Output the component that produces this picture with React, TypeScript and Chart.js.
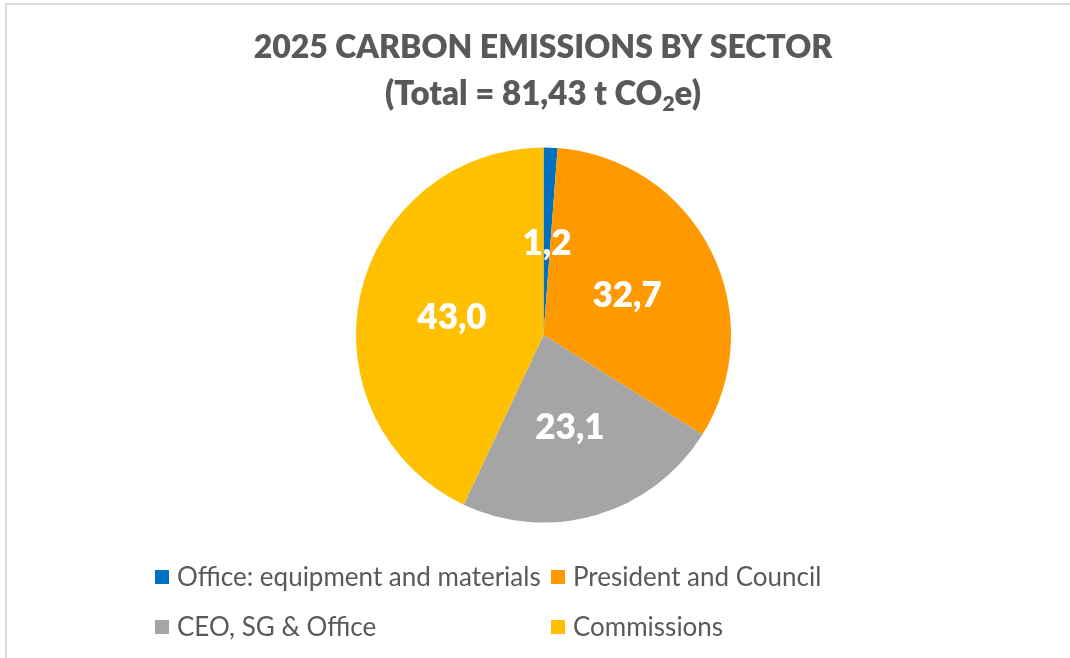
import React, { useEffect, useRef } from "react";
import { Chart, registerables } from "chart.js";

Chart.register(...registerables);

const categories = [
  "Office: equipment and materials",
  "President and Council",
  "CEO, SG & Office",
  "Commissions",
];
const shares = [1.2, 32.7, 23.1, 43.0];
const valueLabels = ["1,2", "32,7", "23,1", "43,0"];
const colors = ["#0070C0", "#FF9900", "#A5A5A5", "#FFC000"];
const titleLine1 = "2025 CARBON EMISSIONS BY SECTOR";
const titleLine2Main = "(Total = 81,43 t CO";
const titleLine2Sub = "2";
const titleLine2End = "e)";

const FONT = "Lato, 'Open Sans', sans-serif";
const TEXT_GRAY = "#595959";

const framePlugin = {
  id: "frame",
  beforeDraw(chart: any) {
    const ctx = chart.ctx;
    ctx.save();
    ctx.fillStyle = "#ffffff";
    ctx.fillRect(0, 0, chart.width, chart.height);
    ctx.fillStyle = "#dcdcdc";
    ctx.fillRect(5, 3, chart.width - 5, 2);
    ctx.fillRect(5, 3, 2, chart.height - 3);
    ctx.restore();
  },
};

const titlePlugin = {
  id: "customTitle",
  afterDraw(chart: any) {
    const ctx = chart.ctx;
    const cx = 543;
    ctx.save();
    ctx.fillStyle = TEXT_GRAY;
    ctx.textBaseline = "alphabetic";
    ctx.font = `800 32px ${FONT}`;
    ctx.textAlign = "center";
    ctx.fillText(titleLine1, cx, 58);
    ctx.textAlign = "left";
    const big = `800 33px ${FONT}`;
    const small = `800 21px ${FONT}`;
    ctx.font = big;
    const w1 = ctx.measureText(titleLine2Main).width;
    const w3 = ctx.measureText(titleLine2End).width;
    ctx.font = small;
    const w2 = ctx.measureText(titleLine2Sub).width;
    const total = w1 + w2 + w3;
    let x = cx - total / 2;
    ctx.font = big;
    ctx.fillText(titleLine2Main, x, 105);
    x += w1;
    ctx.font = small;
    ctx.fillText(titleLine2Sub, x, 111);
    x += w2;
    ctx.font = big;
    ctx.fillText(titleLine2End, x, 105);
    ctx.restore();
  },
};

const valueLabelPlugin = {
  id: "valueLabels",
  afterDatasetsDraw(chart: any) {
    const ctx = chart.ctx;
    const meta = chart.getDatasetMeta(0);
    ctx.save();
    ctx.fillStyle = "#ffffff";
    const size = 35;
    ctx.font = `800 ${size}px ${FONT}`;
    ctx.textAlign = "center";
    ctx.textBaseline = "alphabetic";
    meta.data.forEach((arc: any, i: number) => {
      const p = arc.getProps(["x", "y", "startAngle", "endAngle", "outerRadius"], true);
      const mid = (p.startAngle + p.endAngle) / 2;
      const r = p.outerRadius * 0.5;
      const x = p.x + Math.cos(mid) * r;
      const y = p.y + Math.sin(mid) * r;
      ctx.fillText(valueLabels[i], x, y + 1.5 + size * 0.358);
    });
    ctx.restore();
  },
};

const legendPlugin = {
  id: "customLegend",
  afterDraw(chart: any) {
    const ctx = chart.ctx;
    ctx.save();
    const size = 26;
    ctx.font = `${size}px ${FONT}`;
    ctx.textAlign = "left";
    ctx.textBaseline = "alphabetic";
    const colX = [155, 551];
    const rowY = [577, 627];
    categories.forEach((label, i) => {
      const mx = colX[i % 2];
      const cy = rowY[Math.floor(i / 2)];
      ctx.fillStyle = colors[i];
      ctx.fillRect(mx, cy - 7, 14, 14);
      ctx.fillStyle = TEXT_GRAY;
      ctx.fillText(label, mx + 22, cy + size * 0.358);
    });
    ctx.restore();
  },
};

export default function App() {
  const canvasRef = useRef<HTMLCanvasElement | null>(null);

  useEffect(() => {
    if (!canvasRef.current) return;
    const chart = new Chart(canvasRef.current, {
      type: "pie",
      data: {
        labels: categories,
        datasets: [
          {
            data: shares,
            backgroundColor: colors,
            borderWidth: 0,
          },
        ],
      },
      options: {
        animation: false,
        responsive: false,
        maintainAspectRatio: false,
        radius: 187.5,
        layout: {
          padding: { top: 147.5, bottom: 135.5, left: 17, right: 0 },
        },
        plugins: {
          legend: { display: false },
          title: { display: false },
          tooltip: { enabled: false },
        },
      } as any,
      plugins: [framePlugin, titlePlugin, valueLabelPlugin, legendPlugin],
    });
    return () => chart.destroy();
  }, []);

  return (
    <div style={{ position: "absolute", left: 0, top: 0, width: 1070, height: 658 }}>
      <canvas ref={canvasRef} width={1070} height={658} style={{ display: "block" }} />
    </div>
  );
}
